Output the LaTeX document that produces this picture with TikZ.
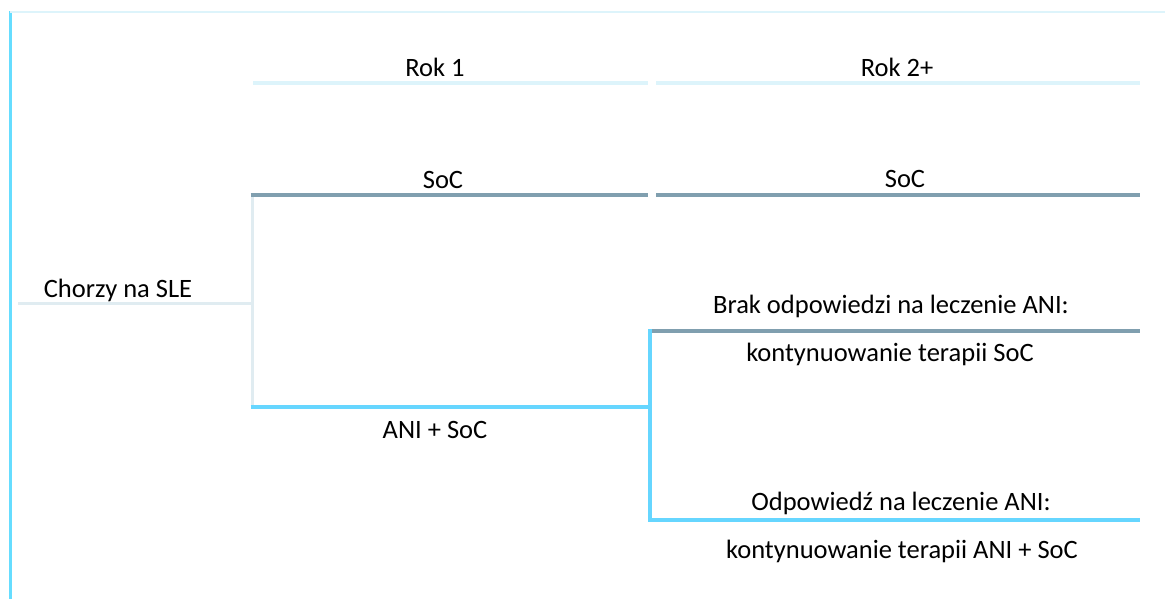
\documentclass[tikz,border=0pt]{standalone}
\usepackage{fontspec}
\setmainfont{Carlito}
\definecolor{greyline}{HTML}{809FAF}
\definecolor{cyanline}{HTML}{66D6FF}
\definecolor{paleline}{HTML}{DDF4FB}
\definecolor{treeline}{HTML}{E0ECF1}
\definecolor{borderline}{HTML}{66DDFF}
\begin{document}
\begin{tikzpicture}[x=1pt,y=-1pt,
  lbl/.style={anchor=base,inner sep=0pt,font=\fontsize{26.5}{31}\selectfont},
  hdr/.style={paleline,line width=4pt},
  soc/.style={greyline,line width=4pt},
  ani/.style={cyanline,line width=4pt},
  root/.style={treeline,line width=3pt}]
\useasboundingbox (0,0) rectangle (1165,599);
% frame
\coordinate (f1) at (10,599);
\coordinate (f2) at (10,12);
\coordinate (f3) at (1165,12);
\draw[borderline,line width=3pt] (f1) -- (10,11);
\draw[paleline,line width=1.2pt] (f2) -- (f3);
% header
\coordinate (h1a) at (253,83); \coordinate (h1b) at (648,83);
\coordinate (h2a) at (656,83); \coordinate (h2b) at (1140,83);
\draw[hdr] (h1a) -- (h1b);
\draw[hdr] (h2a) -- (h2b);
\node[lbl] (rok1) at (435,77) {Rok 1};
\node[lbl] (rok2) at (897,77) {Rok 2+};
% root
\coordinate (r0) at (18,303);
\coordinate (r1) at (252,303);
\coordinate (rt) at (252,195);
\coordinate (rb) at (252,407);
\node[lbl] (chorzy) at (118,297) {Chorzy na SLE};
% SoC branch
\coordinate (s1) at (648,195);
\coordinate (s2a) at (656,195);
\coordinate (s2b) at (1140,195);
\draw[root] (r0) -- (r1);
\draw[root] (rt) -- (rb);
\draw[soc] (250.5,195) -- (s1);
\draw[soc] (s2a) -- (s2b);
\node[lbl] (soc1) at (443,189) {SoC};
\node[lbl] (soc2) at (905,187) {SoC};
% ANI branch
\coordinate (a1) at (650,407);
\coordinate (at) at (650,331);
\coordinate (ab) at (650,520);
\coordinate (nr) at (1140,331);
\coordinate (re) at (1140,520);
\draw[ani] (250.5,407) -- (a1);
\draw[soc] (at) -- (nr);
\draw[ani] (a1) -- (650,329);
\draw[ani] (a1) -- (ab) -- (re);
\node[lbl] (anisoc) at (435,438) {ANI + SoC};
\node[lbl] (brak) at (891,313) {Brak odpowiedzi na leczenie ANI:};
\node[lbl] (kont1) at (890,361) {kontynuowanie terapii SoC};
\node[lbl] (odp) at (901,510) {Odpowiedź na leczenie ANI:};
\node[lbl] (kont2) at (902,558) {kontynuowanie terapii ANI + SoC};
\end{tikzpicture}
\end{document}
